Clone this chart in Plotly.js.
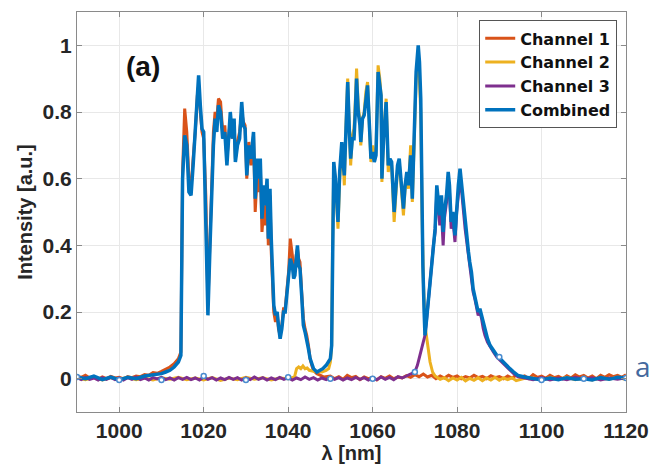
<!DOCTYPE html>
<html>
<head>
<meta charset="utf-8">
<script src="https://cdn.plot.ly/plotly-3.0.1.min.js"></script>
<style>html,body{margin:0;padding:0;background:#fff;}#chart{width:653px;height:467px;}</style>
</head>
<body>
<div id="chart"></div>
<script>
// ---- Data ----
const seriesNames = ["Channel 1", "Channel 2", "Channel 3", "Combined"];

const ch1X = [990,991,992,993,994,995,996,997,998,999,1000,1001,1002,1003,1004,1005,1006,1007,1008,1009,1010,1011,1012,1013,1014,1014.6,1015,1015.5,1016,1016.5,1017,1017.5,1018,1018.5,1018.8,1019.2,1019.6,1020,1020.5,1021,1021.5,1021.9,1022.3,1022.7,1023.1,1023.5,1024,1024.5,1025,1025.5,1026,1026.3,1026.8,1027.2,1027.5,1028,1028.5,1029,1029.4,1029.8,1030.2,1030.7,1031.2,1031.8,1032.2,1032.7,1033.1,1033.4,1033.8,1034.3,1034.6,1035,1035.3,1035.7,1036,1036.3,1036.6,1037,1037.4,1037.7,1038.1,1038.5,1038.9,1039.3,1039.7,1040.1,1040.5,1041,1041.3,1041.6,1041.9,1042.2,1042.5,1042.8,1043.2,1043.6,1044,1044.4,1044.8,1045.2,1045.6,1046,1046.8,1047.5,1048.5,1050,1051,1052,1053,1054,1055,1056,1057,1058,1059,1060,1061,1062,1063,1064,1065,1066,1067,1068,1069,1070,1071,1072,1073,1074,1075,1076,1077,1078,1079,1080,1081,1082,1083,1084,1085,1086,1087,1088,1089,1090,1091,1092,1093,1094,1095,1096,1097,1098,1099,1100,1101,1102,1103,1104,1105,1106,1107,1108,1109,1110,1111,1112,1113,1114,1115,1116,1117,1118,1119,1120];
const ch1Y = [0.008,0.004,0.01,0.002,0.006,-0.002,0.005,0.0,0.007,0.002,0.004,-0.001,0.006,0.003,0.008,0.006,0.012,0.01,0.018,0.016,0.022,0.028,0.035,0.045,0.06,0.08,0.62,0.81,0.74,0.6,0.57,0.66,0.74,0.85,0.88,0.8,0.74,0.72,0.55,0.22,0.45,0.62,0.74,0.8,0.78,0.84,0.83,0.74,0.76,0.66,0.73,0.78,0.72,0.77,0.66,0.71,0.74,0.8,0.77,0.76,0.6,0.71,0.64,0.73,0.5,0.62,0.56,0.64,0.44,0.52,0.46,0.58,0.4,0.55,0.38,0.28,0.2,0.17,0.2,0.15,0.13,0.16,0.21,0.21,0.27,0.32,0.42,0.37,0.31,0.33,0.37,0.39,0.36,0.35,0.26,0.18,0.15,0.13,0.1,0.06,0.04,0.025,0.015,0.01,0.005,0.008,0.0,0.006,-0.002,0.01,0.003,0.007,-0.003,0.005,0.0,0.004,-0.004,0.006,0.001,0.008,0.0,0.005,0.002,0.009,0.004,0.012,0.006,0.014,0.005,0.01,0.0,0.008,0.002,0.01,0.004,0.008,0.0,0.006,0.002,0.01,0.003,0.007,0.0,0.009,0.003,0.006,0.0,0.008,0.002,0.01,0.004,0.008,0.0,0.012,0.004,0.008,0.001,0.01,0.003,0.007,0.0,0.009,0.002,0.012,0.005,0.01,0.002,0.008,0.0,0.01,0.004,0.012,0.006,0.01,0.004,0.012];

const ch2X = [990,992,994,996,998,1000,1002,1004,1006,1008,1010,1012,1014,1016,1018,1020,1022,1024,1026,1028,1030,1032,1034,1036,1038,1040,1041.5,1042,1042.5,1043,1043.5,1044,1044.5,1045,1046,1047,1048,1049,1049.6,1050,1050.3,1050.5,1050.8,1051.2,1051.5,1051.8,1052.2,1052.7,1053,1053.3,1053.7,1054.1,1054.5,1054.8,1055.2,1055.6,1055.9,1056.2,1056.6,1057,1057.2,1057.6,1058,1058.4,1058.8,1059.2,1059.6,1060,1060.4,1060.8,1061.3,1061.7,1062,1062.2,1062.6,1063.2,1063.7,1064.1,1064.5,1065.1,1065.5,1065.9,1066.3,1066.8,1067.3,1067.7,1068.1,1068.5,1069,1069.4,1069.8,1070.3,1070.8,1071.1,1071.4,1071.7,1072,1072.4,1073,1073.6,1074.2,1074.8,1076,1077,1078,1079,1080,1081,1082,1083,1084,1085,1086,1087,1088,1089,1090,1091,1092,1093,1094,1096,1098,1100,1102,1104,1106,1108,1110,1112,1114,1116,1118,1120];
const ch2Y = [0.002,-0.003,0.004,-0.004,0.003,-0.002,0.004,-0.003,0.002,-0.004,0.003,-0.002,0.004,-0.003,0.002,-0.004,0.003,-0.005,0.002,-0.003,0.004,-0.002,0.003,-0.004,0.002,0.0,0.005,0.03,0.035,0.03,0.038,0.03,0.032,0.025,0.022,0.02,0.02,0.025,0.03,0.05,0.1,0.38,0.63,0.6,0.52,0.45,0.6,0.68,0.66,0.58,0.76,0.9,0.74,0.64,0.73,0.75,0.83,0.93,0.82,0.77,0.7,0.78,0.8,0.86,0.89,0.78,0.65,0.7,0.66,0.68,0.94,0.9,0.85,0.59,0.73,0.84,0.62,0.65,0.64,0.47,0.57,0.63,0.65,0.57,0.49,0.57,0.6,0.57,0.7,0.53,0.68,0.9,0.98,0.9,0.8,0.5,0.3,0.16,0.1,0.05,0.02,0.008,-0.002,0.003,-0.006,0.002,-0.004,0.004,-0.007,0.001,-0.005,0.003,-0.006,0.002,-0.004,0.004,-0.005,0.002,-0.003,0.003,-0.006,0.001,0.002,-0.003,0.003,-0.002,0.004,-0.003,0.002,-0.004,0.003,-0.002,0.004,-0.003];

const ch3X = [990,991,992,993,994,995,996,997,998,999,1000,1001,1002,1003,1004,1005,1006,1007,1008,1009,1010,1011,1012,1013,1014,1015,1016,1017,1018,1019,1020,1021,1022,1023,1024,1025,1026,1027,1028,1029,1030,1031,1032,1033,1034,1035,1036,1037,1038,1039,1040,1041,1042,1043,1044,1045,1046,1047,1048,1049,1050,1051,1052,1053,1054,1055,1056,1057,1058,1059,1060,1061,1062,1063,1064,1065,1066,1067,1068,1068.5,1069.2,1070,1070.6,1071.2,1071.8,1072.4,1072.8,1073.2,1073.6,1074,1074.4,1074.8,1075.2,1075.5,1075.9,1076.3,1076.7,1077,1077.5,1077.9,1078.2,1078.6,1079,1079.5,1079.9,1080.3,1080.7,1081.1,1081.5,1081.9,1082.3,1082.7,1083,1083.4,1083.8,1084.2,1084.6,1085,1085.4,1085.8,1086.2,1086.6,1087.2,1087.8,1088.6,1089.4,1090.2,1090.9,1091.7,1092.5,1093.4,1094.4,1096,1098,1100,1102,1104,1106,1108,1110,1112,1114,1116,1118,1120];
const ch3Y = [0.003,-0.003,0.004,-0.002,0.002,-0.004,0.003,-0.002,0.004,-0.003,0.002,-0.004,0.003,-0.002,0.005,-0.003,0.002,-0.004,0.003,-0.001,0.004,-0.003,0.002,-0.004,0.003,-0.002,0.004,-0.003,0.002,-0.004,0.005,-0.002,0.003,-0.004,0.002,-0.003,0.004,-0.002,0.003,-0.004,0.002,-0.003,0.005,-0.002,0.003,-0.004,0.002,-0.003,0.004,-0.002,0.003,-0.004,0.002,-0.003,0.005,-0.002,0.003,-0.004,0.002,-0.003,0.004,-0.002,0.003,-0.004,0.002,-0.003,0.004,-0.002,0.003,-0.004,0.002,-0.003,0.005,-0.002,0.004,-0.003,0.006,0.002,0.008,0.01,0.015,0.02,0.04,0.07,0.1,0.13,0.18,0.24,0.3,0.36,0.4,0.44,0.56,0.53,0.46,0.5,0.4,0.48,0.53,0.6,0.56,0.45,0.48,0.41,0.5,0.55,0.6,0.56,0.5,0.45,0.41,0.37,0.34,0.31,0.26,0.24,0.21,0.19,0.2,0.18,0.15,0.13,0.11,0.095,0.08,0.065,0.055,0.045,0.035,0.025,0.015,0.006,0.002,-0.003,0.003,-0.004,0.002,-0.003,0.004,-0.002,0.003,-0.004,0.002,-0.002,0.003];

const combX = [990,992,994,996,998,1000,1002,1004,1006,1008,1010,1011,1012,1013,1014,1014.6,1015,1015.5,1016,1016.5,1017,1017.5,1018,1018.5,1018.8,1019.2,1019.6,1020,1020.5,1021,1021.5,1021.9,1022.3,1022.7,1023.1,1023.5,1024,1024.5,1025,1025.5,1026,1026.3,1026.8,1027.2,1027.5,1028,1028.5,1029,1029.4,1029.8,1030.2,1030.7,1031.2,1031.8,1032.2,1032.7,1033.1,1033.4,1033.8,1034.3,1034.6,1035,1035.3,1035.7,1036,1036.3,1036.6,1037,1037.4,1037.7,1038.1,1038.5,1038.9,1039.3,1039.7,1040.1,1040.5,1041,1041.3,1041.6,1041.9,1042.2,1042.5,1042.8,1043.2,1043.6,1044,1044.4,1044.8,1045.2,1045.6,1046,1046.8,1047.5,1048.2,1049,1049.6,1050,1050.3,1050.5,1050.8,1051.2,1051.5,1051.8,1052.2,1052.7,1053,1053.3,1053.7,1054.1,1054.5,1054.8,1055.2,1055.6,1055.9,1056.2,1056.6,1057,1057.2,1057.6,1058,1058.4,1058.8,1059.2,1059.6,1060,1060.4,1060.8,1061.3,1061.7,1062,1062.2,1062.6,1063.2,1063.7,1064.1,1064.5,1065.1,1065.5,1065.9,1066.3,1066.8,1067.3,1067.7,1068.1,1068.5,1069,1069.4,1069.8,1070.3,1070.8,1071.1,1071.4,1071.7,1071.9,1072.2,1072.4,1072.8,1073.2,1073.6,1074,1074.4,1074.8,1075.2,1075.5,1075.9,1076.3,1076.7,1077,1077.5,1077.9,1078.2,1078.6,1079,1079.5,1079.9,1080.3,1080.7,1081.1,1081.5,1081.9,1082.3,1082.7,1083,1083.4,1083.8,1084.2,1084.6,1085,1085.4,1085.8,1086.2,1086.6,1087.2,1087.8,1088.6,1089.4,1090.2,1090.9,1091.7,1092.5,1093.4,1094.4,1096,1098,1100,1102,1104,1106,1108,1110,1112,1114,1116,1118,1120];
const combY = [0.005,0.0,0.008,-0.003,0.005,-0.004,0.004,0.0,0.008,0.012,0.015,0.02,0.025,0.035,0.05,0.07,0.6,0.73,0.7,0.56,0.55,0.64,0.75,0.87,0.91,0.82,0.75,0.74,0.5,0.19,0.4,0.57,0.7,0.78,0.74,0.82,0.8,0.72,0.74,0.64,0.74,0.8,0.72,0.78,0.65,0.7,0.72,0.83,0.76,0.75,0.61,0.7,0.66,0.74,0.54,0.66,0.6,0.66,0.48,0.58,0.52,0.6,0.42,0.57,0.42,0.32,0.22,0.19,0.2,0.16,0.12,0.15,0.2,0.2,0.26,0.3,0.36,0.34,0.3,0.31,0.36,0.4,0.34,0.33,0.25,0.16,0.14,0.12,0.09,0.06,0.04,0.03,0.02,0.025,0.03,0.04,0.05,0.06,0.1,0.4,0.65,0.6,0.55,0.47,0.62,0.71,0.65,0.61,0.75,0.89,0.74,0.66,0.72,0.72,0.8,0.9,0.8,0.76,0.71,0.78,0.79,0.85,0.88,0.77,0.66,0.68,0.65,0.67,0.92,0.88,0.85,0.6,0.72,0.83,0.64,0.66,0.65,0.5,0.58,0.64,0.66,0.58,0.51,0.58,0.62,0.58,0.67,0.54,0.7,0.92,1.0,0.95,0.84,0.5,0.34,0.2,0.13,0.18,0.24,0.3,0.36,0.4,0.45,0.58,0.55,0.49,0.55,0.44,0.5,0.55,0.62,0.58,0.47,0.5,0.43,0.53,0.58,0.63,0.58,0.52,0.46,0.42,0.38,0.35,0.32,0.27,0.25,0.22,0.2,0.21,0.19,0.16,0.14,0.12,0.1,0.085,0.07,0.06,0.05,0.04,0.03,0.02,0.01,0.005,0.0,-0.004,0.002,-0.003,0.003,-0.002,0.0,-0.004,0.003,-0.002,0.004,0.002];

// small open markers along the Channel 3 trace every 10 nm
const markX = [990,1000,1010,1020,1030,1040,1050,1060,1070,1090,1100,1110,1120];
const markY = [0.005,-0.004,-0.004,0.008,-0.004,0.004,0.0,0.0,0.02,0.065,-0.004,0.0,0.002];

const xTicks = [1000,1020,1040,1060,1080,1100,1120];
const yTicks = [0,0.2,0.4,0.6,0.8,1];

const colors = ["#D95319", "#EDB120", "#7E2F8E", "#0072BD"];

const traces = [
  {x: ch1X, y: ch1Y, name: seriesNames[0], mode: "lines", line: {color: colors[0], width: 3}},
  {x: ch2X, y: ch2Y, name: seriesNames[1], mode: "lines", line: {color: colors[1], width: 3}},
  {x: ch3X, y: ch3Y, name: seriesNames[2], mode: "lines", line: {color: colors[2], width: 3}},
  {x: combX, y: combY, name: seriesNames[3], mode: "lines", line: {color: colors[3], width: 3.5}},
  {x: markX, y: markY, mode: "markers", showlegend: false, hoverinfo: "skip",
   marker: {symbol: "circle", size: 5, color: "#ffffff", line: {color: "#4a8ccf", width: 1.5}}}
];

const fontFam = "Liberation Sans, Arial, Helvetica, sans-serif";
const legFam = "DejaVu Sans, Liberation Sans, sans-serif";

const layout = {
  width: 653, height: 467,
  margin: {l: 77, r: 27, t: 12, b: 55},
  paper_bgcolor: "#ffffff", plot_bgcolor: "#ffffff",
  font: {family: fontFam, color: "#262626"},
  xaxis: {
    range: [990, 1120], tickvals: xTicks, ticktext: xTicks.map(String),
    showgrid: true, gridcolor: "#e8e8e8", gridwidth: 1,
    showline: true, linecolor: "#8a8a8a", linewidth: 1, mirror: "ticks",
    ticks: "inside", ticklen: 5, tickcolor: "#8a8a8a",
    tickfont: {family: fontFam, size: 21, color: "#262626", weight: "bold"},
    zeroline: false,
    title: {text: "λ [nm]", font: {family: fontFam, size: 20, color: "#262626", weight: "bold"}, standoff: 2}
  },
  yaxis: {
    range: [-0.1, 1.1], tickvals: yTicks, ticktext: ["0","0.2","0.4","0.6","0.8","1"],
    showgrid: true, gridcolor: "#e8e8e8", gridwidth: 1,
    showline: true, linecolor: "#8a8a8a", linewidth: 1, mirror: "ticks",
    ticks: "inside", ticklen: 5, tickcolor: "#8a8a8a",
    tickfont: {family: fontFam, size: 21, color: "#262626", weight: "bold"},
    zeroline: false,
    title: {text: "Intensity [a.u.]", font: {family: fontFam, size: 20, color: "#262626", weight: "bold"}, standoff: 4}
  },
  legend: {
    x: 0.984, y: 0.979, xanchor: "right", yanchor: "top",
    bgcolor: "#ffffff", bordercolor: "#555555", borderwidth: 1,
    font: {family: legFam, size: 16, color: "#111111", weight: "bold"},
    tracegroupgap: 0
  },
  annotations: [
    {xref: "paper", yref: "paper", x: 0.12, y: 0.865, xanchor: "center", yanchor: "middle",
     text: "(a)", showarrow: false, font: {family: fontFam, size: 28, color: "#111111", weight: "bold"}},
    {xref: "paper", yref: "paper", x: 1.012, y: 0.115, xanchor: "left", yanchor: "middle",
     text: "a", showarrow: false, font: {family: "Open Sans, sans-serif", size: 28, color: "#44699e"}}
  ],
  showlegend: true
};

Plotly.newPlot("chart", traces, layout, {displayModeBar: false, staticPlot: true});
</script>
</body>
</html>
